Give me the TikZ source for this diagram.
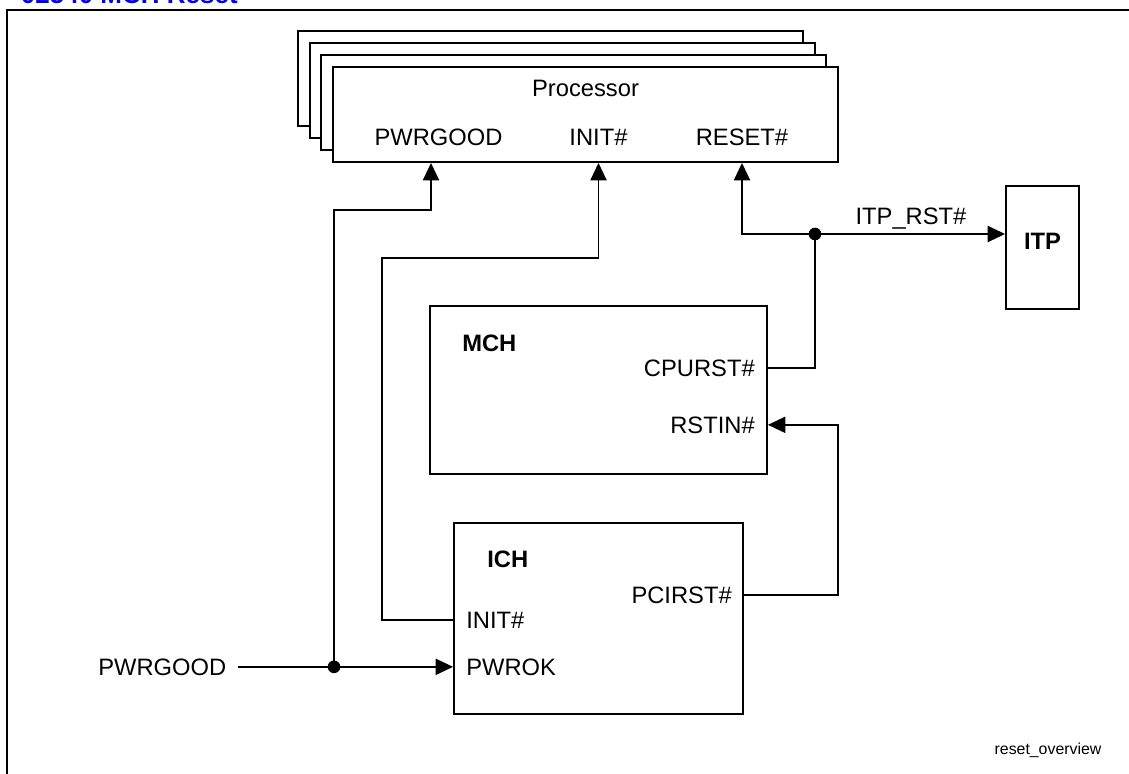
\documentclass[tikz,border=0pt]{standalone}
\usepackage{fontspec}
\setmainfont{Liberation Sans}
\usetikzlibrary{arrows.meta,positioning}
\definecolor{titleblue}{RGB}{0,0,255}
\tikzset{
  blk/.style={draw, line width=1.4pt, fill=white, inner sep=0pt},
  pin/.style={inner sep=0pt, font=\fontsize{17.8}{20}\selectfont},
  wire/.style={line width=1.4pt},
  sig/.style={wire, -{Triangle[length=13pt,width=12pt]}},
  dot/.style={circle, fill, inner sep=0pt, minimum size=9.5pt},
}
\begin{document}
\begin{tikzpicture}[x=0.75pt,y=-0.75pt]
\useasboundingbox (0,0) rectangle (1129,774);
\fill[white] (0,0) rectangle (1129,774);

% title (cut by the page) and frame
\node[anchor=base east, inner sep=0pt, text=titleblue, font=\fontsize{19.5}{22}\selectfont\bfseries] (title) at (238,4) {02540 MCH Reset};
\draw[line width=2pt] (7,10) rectangle (1160,800);

% processor stack
\foreach \k in {3,2,1}
  \node[blk, minimum width=378.75pt, minimum height=71.25pt] (proc\k) at ({585.5-11.7*\k},{114.5-11.9*\k}) {};
\node[blk, minimum width=378.75pt, minimum height=71.25pt] (proc) at (585.5,114.5) {};
\node[pin, anchor=base] (proc-name) at (585.5,97) {Processor};
\node[pin, anchor=base] (proc-pwr) at (438.5,146) {PWRGOOD};
\node[pin, anchor=base] (proc-init) at (598.5,146) {INIT\#};
\node[pin, anchor=base] (proc-rst) at (742,146) {RESET\#};

% ITP
\node[blk, minimum width=54.75pt, minimum height=92.25pt] (itp) at (1042.5,247.5) {};
\node[pin, anchor=base, font=\fontsize{17.8}{20}\selectfont\bfseries] (itp-name) at (1042.5,249) {ITP};

% MCH
\node[blk, minimum width=252.75pt, minimum height=126pt] (mch) at (598.5,390) {};
\node[pin, anchor=base west, font=\fontsize{17.8}{20}\selectfont\bfseries] (mch-name) at (462,351) {MCH};
\node[pin, anchor=base east] (mch-cpu) at (755,376) {CPURST\#};
\node[pin, anchor=base east] (mch-rstin) at (755,433) {RSTIN\#};

% ICH
\node[blk, minimum width=216.75pt, minimum height=143.25pt] (ich) at (598.5,618.5) {};
\node[pin, anchor=base west, font=\fontsize{17.8}{20}\selectfont\bfseries] (ich-name) at (487,567) {ICH};
\node[pin, anchor=base east] (ich-pci) at (732,603) {PCIRST\#};
\node[pin, anchor=base west] (ich-init) at (466,628) {INIT\#};
\node[pin, anchor=base west] (ich-pwrok) at (466,675) {PWROK};

% input and junctions
\node[pin, anchor=base west] (pwrgood) at (98,675) {PWRGOOD};
\node[dot] (j-pwr) at (334,0 |- ich-pwrok) {};
\node[dot] (j-rst) at (815,234) {};
\node[pin, anchor=base] (itp-rst) at (911,224) {ITP\_RST\#};

% connectors
\draw[sig] ([xshift=9pt]pwrgood.east |- ich-pwrok) -- (ich.west |- ich-pwrok);
\draw[sig] (j-pwr.center) |- (431,210) -- (431,0 |- proc.south);
\draw[sig] (ich.west |- ich-init) -| (382,258) -| (proc-init |- proc.south);
\draw[wire] (mch.east |- mch-cpu) -| (j-rst.center);
\draw[sig] (j-rst.center) -| (proc-rst |- proc.south);
\draw[sig] (j-rst.center) -- (itp.west |- j-rst);
\draw[sig] (ich.east |- ich-pci) -| (838,0 |- mch-rstin) -- (mch.east |- mch-rstin);

\node[anchor=base, inner sep=0pt, font=\fontsize{11.9}{14}\selectfont] (fig-id) at (1048,754) {reset\_overview};
\end{tikzpicture}
\end{document}
